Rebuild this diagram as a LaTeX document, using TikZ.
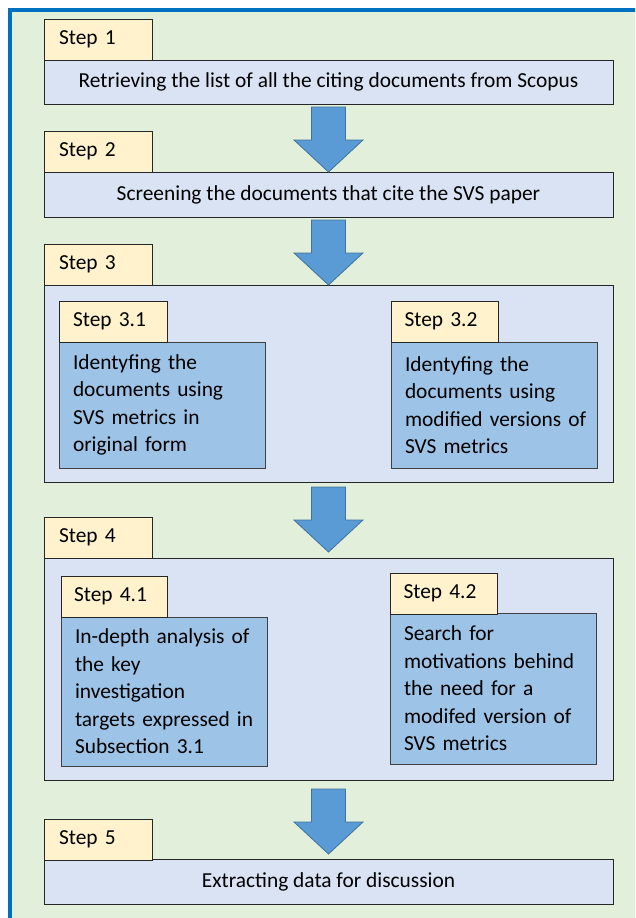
\documentclass[tikz,border=0pt]{standalone}
\usepackage{fontspec}
\setmainfont{Carlito}
\begin{document}
\begin{tikzpicture}[x=1pt,y=1pt,
  every node/.style={font=\fontsize{21.4}{27.5}\selectfont, inner sep=0pt, outer sep=0pt},
  tabbox/.style={draw=black!85, line width=0.8pt, fill=tabfill, minimum width=108, minimum height=41, anchor=north west, text width=93, align=left, inner xsep=0pt},
  mainbox/.style={draw=black!85, line width=0.8pt, fill=mainfill, minimum width=569, anchor=north west},
  subbox/.style={draw=black!75, line width=0.8pt, fill=subfill, minimum width=206, anchor=north west, text width=178, align=left},
  blockarrow/.style={draw=arrowedge, line width=0.8pt, fill=arrowfill, line join=miter},
]
\definecolor{framefill}{HTML}{E2EFDA}
\definecolor{frameline}{HTML}{0070C0}
\definecolor{tabfill}{HTML}{FFF2CC}
\definecolor{mainfill}{HTML}{DAE3F3}
\definecolor{subfill}{HTML}{9DC3E6}
\definecolor{arrowfill}{HTML}{5B9BD5}
\definecolor{arrowedge}{HTML}{41719C}
\tikzset{barrow/.pic={\draw[blockarrow] (-17,0) -- (17,0) -- (17,-33) -- (34.5,-33) -- (0,-65) -- (-34.5,-33) -- (-17,-33) -- cycle;}}
\useasboundingbox (0,0) rectangle (635,-918);
\clip (0,0) rectangle (635,-918);
% outer frame
\draw[fill=framefill, draw=frameline, line width=4pt] (9.5,-9.5) rectangle (700,-1000);

% Step 1
\node[mainbox, minimum height=44] (b1) at (44,-60) {Retrieving the list of all the citing documents from Scopus};
\node[tabbox] (t1) at (44,-19) {\hspace*{7.5pt}Step 1};
% Step 2
\node[mainbox, minimum height=45] (b2) at (44,-172) {Screening the documents that cite the SVS paper};
\node[tabbox] (t2) at (44,-131) {\hspace*{7.5pt}Step 2};
% Step 3
\node[mainbox, minimum height=197] (b3) at (44,-285) {};
\node[tabbox] (t3) at (44,-244) {\hspace*{7.5pt}Step 3};
\node[subbox, minimum height=126] (b31) at (59,-342) {Identyfing the\\documents using\\SVS metrics in\\original form};
\node[tabbox] (t31) at (59,-301) {\hspace*{6.5pt}Step 3.1};
\node[subbox, minimum height=126] (b32) at (391,-342) {Identyfing the\\documents using\\\mbox{modified versions of}\\SVS metrics};
\node[tabbox, minimum width=107] (t32) at (391,-301) {\hspace*{6.5pt}Step 3.2};
% Step 4
\node[mainbox, minimum height=222] (b4) at (44,-558) {};
\node[tabbox] (t4) at (44,-517) {\hspace*{7.5pt}Step 4};
\node[subbox, minimum height=149] (b41) at (61,-617) {\mbox{In-depth analysis of}\\the key\\investigation\\\mbox{targets expressed in}\\Subsection 3.1};
\node[tabbox, minimum width=106] (t41) at (61,-576) {\hspace*{6.5pt}Step 4.1};
\node[subbox, minimum height=151] (b42) at (390,-613) {Search for\\\mbox{motivations behind}\\the need for a\\\mbox{modifed version of}\\SVS metrics};
\node[tabbox, minimum width=107] (t42) at (390,-573) {\hspace*{6.5pt}Step 4.2};
% Step 5
\node[mainbox, minimum height=45] (b5) at (44,-859) {Extracting data for discussion};
\node[tabbox] (t5) at (44,-819) {\hspace*{7.5pt}Step 5};

% block arrows
\pic at ([yshift=-3]b1.south) {barrow};
\pic at ([yshift=-3]b2.south) {barrow};
\pic at ([yshift=-5]b3.south) {barrow};
\pic at ([yshift=-9]b4.south) {barrow};
\end{tikzpicture}
\end{document}
